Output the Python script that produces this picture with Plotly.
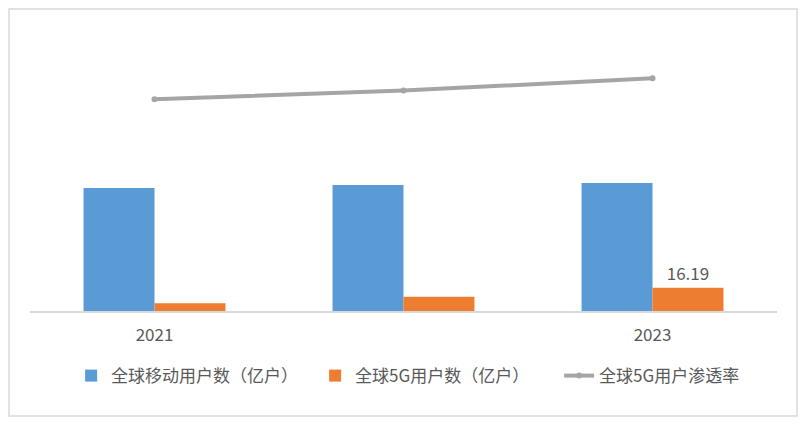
import plotly.graph_objects as go

# values
years = ["2021", "2022", "2023"]
year_labels = ["2021", "", "2023"]          # 2022 label is blank in the source
mobile_users = [85.4, 87.5, 88.9]           # 全球移动用户数（亿户）
users_5g = [5.35, 9.9, 16.19]               # 全球5G用户数（亿户）
rate_5g = [6.3, 11.3, 18.2]                 # 全球5G用户渗透率 (%)

blue = "#5b9bd5"
orange = "#ed7d31"
grey = "#a5a5a5"
text_grey = "#595959"
font_family = "Noto Sans CJK SC, Noto Sans, sans-serif"

# only the 2023 5G bar carries a label in the source
labels_5g = ["" if y != "2023" else f"{v:.2f}" for y, v in zip(years, users_5g)]

fig = go.Figure()
fig.add_trace(go.Bar(
    x=years, y=mobile_users, name="全球移动用户数（亿户）",
    marker=dict(color=blue, line=dict(width=0)),
))
fig.add_trace(go.Bar(
    x=years, y=users_5g, name="全球5G用户数（亿户）",
    marker=dict(color=orange, line=dict(width=0)),
    text=labels_5g, textposition="outside", cliponaxis=False,
    textfont=dict(size=17, color=text_grey, family=font_family),
))
fig.add_trace(go.Scatter(
    x=years, y=rate_5g, name="全球5G用户渗透率", yaxis="y2",
    mode="lines+markers",
    line=dict(color=grey, width=4),
    marker=dict(color=grey, size=6),
))

# the page body adds an 8px offset, so the figure is 8px smaller than the window
fig.update_layout(
    width=799, height=425,
    margin=dict(l=22, r=30, t=22, b=122, autoexpand=False),
    paper_bgcolor="white", plot_bgcolor="white",
    font=dict(family=font_family, size=16, color=text_grey),
    barmode="group", bargap=0.43, bargroupgap=0,
    showlegend=True,
    legend=dict(
        orientation="h",
        xref="container", x=0.079, xanchor="left",
        yref="container", y=0.134, yanchor="middle",
        bgcolor="rgba(0,0,0,0)",
        font=dict(size=17, color=text_grey),
        entrywidth=199,
    ),
    xaxis=dict(
        tickvals=years, ticktext=year_labels,
        showline=True, linecolor="#d9d9d9", linewidth=1.5,
        showgrid=False, zeroline=False,
        ticks="outside", ticklen=8, tickcolor="white",
        tickfont=dict(size=17, color=text_grey),
    ),
    yaxis=dict(range=[0, 195], visible=False, showgrid=False),
    yaxis2=dict(range=[-113.7, 45.6], overlaying="y", side="right",
                visible=False, showgrid=False),
    shapes=[dict(
        type="rect", xref="paper", yref="paper",
        x0=-21 / 747, x1=1 + 20 / 747, y0=-105 / 281, y1=1 + 21 / 281,
        line=dict(color="#d9d9d9", width=1.5),
    )],
)

fig.write_html("out.html")
